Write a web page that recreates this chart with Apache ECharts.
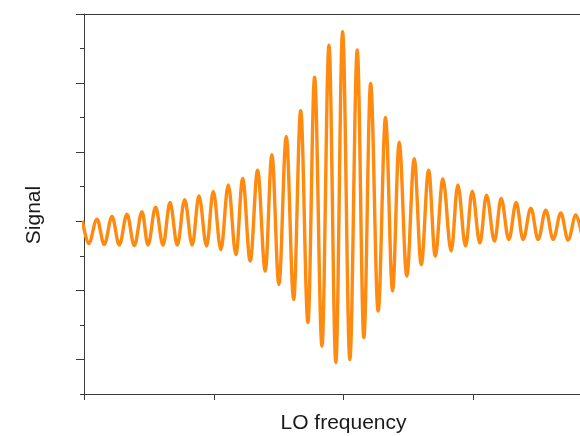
<!DOCTYPE html>
<html>
<head>
<meta charset="utf-8">
<script src="https://cdn.jsdelivr.net/npm/echarts@6/dist/echarts.min.js"></script>
<style>
  html, body { margin: 0; padding: 0; background: #fff; }
  #chart { width: 580px; height: 436px; }
</style>
</head>
<body>
<div id="chart"></div>
<script>
// maxima / minima of the trace
// x in units of the LO-frequency ticks, y in units of the signal ticks
const peakX = [-0.012, 0.100, 0.216, 0.331, 0.447, 0.552, 0.663, 0.776, 0.886, 0.996,
  1.112, 1.223, 1.338, 1.448, 1.559, 1.670, 1.777, 1.888, 1.993, 2.106,
  2.209, 2.324, 2.429, 2.545, 2.656, 2.766, 2.881, 2.992, 3.102, 3.215,
  3.331, 3.444, 3.559, 3.675, 3.791]
const peakY = [0.01, 0.029, 0.068, 0.101, 0.140, 0.205, 0.271, 0.314, 0.365, 0.430,
  0.524, 0.618, 0.741, 0.965, 1.226, 1.602, 2.087, 2.550, 2.745, 2.478,
  1.993, 1.501, 1.146, 0.906, 0.741, 0.611, 0.524, 0.437, 0.379, 0.329,
  0.271, 0.191, 0.162, 0.119, 0.090]
const troughX = [0.036, 0.156, 0.272, 0.388, 0.493, 0.609, 0.719, 0.834, 0.945, 1.055,
  1.171, 1.281, 1.397, 1.502, 1.616, 1.726, 1.834, 1.941, 2.049, 2.157,
  2.267, 2.378, 2.488, 2.599, 2.707, 2.830, 2.941, 3.051, 3.164, 3.274,
  3.384, 3.500, 3.616, 3.731, 3.844]
const troughY = [-0.323, -0.337, -0.344, -0.352, -0.344, -0.344, -0.344, -0.344, -0.359, -0.410,
  -0.482, -0.576, -0.721, -0.916, -1.133, -1.465, -1.806, -2.045, -2.001, -1.683,
  -1.300, -1.010, -0.793, -0.627, -0.504, -0.431, -0.359, -0.315, -0.287, -0.265,
  -0.265, -0.265, -0.265, -0.272, -0.272]

const yMajorTicks = [-2, -1, 0, 1, 2, 3]
const yMinorTicks = [-2.5, -1.5, -0.5, 0.5, 1.5, 2.5]

const points = []
peakX.forEach((x, i) => points.push([x, peakY[i]]))
troughX.forEach((x, i) => points.push([x, troughY[i]]))
points.sort((a, b) => a[0] - b[0])

const axisColor = '#3a3a3a'
const font = '"Liberation Sans", Arial, sans-serif'

const chart = echarts.init(document.getElementById('chart'))
chart.setOption({
  animation: false,
  backgroundColor: '#ffffff',
  // the plot runs past the right edge of the picture, as in the reference
  grid: { left: 84, top: 14, width: 519, height: 380, outerBoundsMode: 'none', containLabel: false },
  xAxis: [
    {
      type: 'value',
      min: 0,
      max: 4,
      interval: 1,
      position: 'bottom',
      name: 'LO frequency',
      nameLocation: 'middle',
      nameGap: 19,
      nameTextStyle: { color: '#1a1a1a', fontSize: 21, fontFamily: font },
      axisLine: { show: true, onZero: false, lineStyle: { color: axisColor, width: 1 } },
      axisTick: { show: true, inside: false, length: 6, lineStyle: { color: axisColor } },
      axisLabel: { show: false },
      splitLine: { show: false }
    },
    {
      type: 'value',
      min: 0,
      max: 4,
      position: 'top',
      axisLine: { show: true, onZero: false, lineStyle: { color: axisColor, width: 1 } },
      axisTick: { show: false },
      axisLabel: { show: false },
      splitLine: { show: false }
    }
  ],
  yAxis: [
    {
      type: 'value',
      min: -2.5,
      max: 3,
      position: 'left',
      name: 'Signal',
      nameLocation: 'middle',
      nameRotate: 90,
      nameGap: 39,
      nameTextStyle: { color: '#1a1a1a', fontSize: 21, fontFamily: font, padding: [0, 22, 0, 0] },
      axisLine: { show: true, onZero: false, lineStyle: { color: axisColor, width: 1 } },
      axisTick: { show: true, inside: false, length: 8, customValues: yMajorTicks, lineStyle: { color: axisColor } },
      axisLabel: { show: false },
      splitLine: { show: false }
    },
    {
      type: 'value',
      min: -2.5,
      max: 3,
      position: 'left',
      axisLine: { show: false, onZero: false },
      axisTick: { show: true, inside: false, length: 4, customValues: yMinorTicks, lineStyle: { color: axisColor } },
      axisLabel: { show: false },
      splitLine: { show: false }
    }
  ],
  series: [
    {
      type: 'line',
      data: points,
      showSymbol: false,
      smooth: 0.36,
      smoothMonotone: 'x',
      clip: true,
      lineStyle: { color: '#ff8a10', width: 3.4 }
    }
  ]
})
</script>
</body>
</html>
